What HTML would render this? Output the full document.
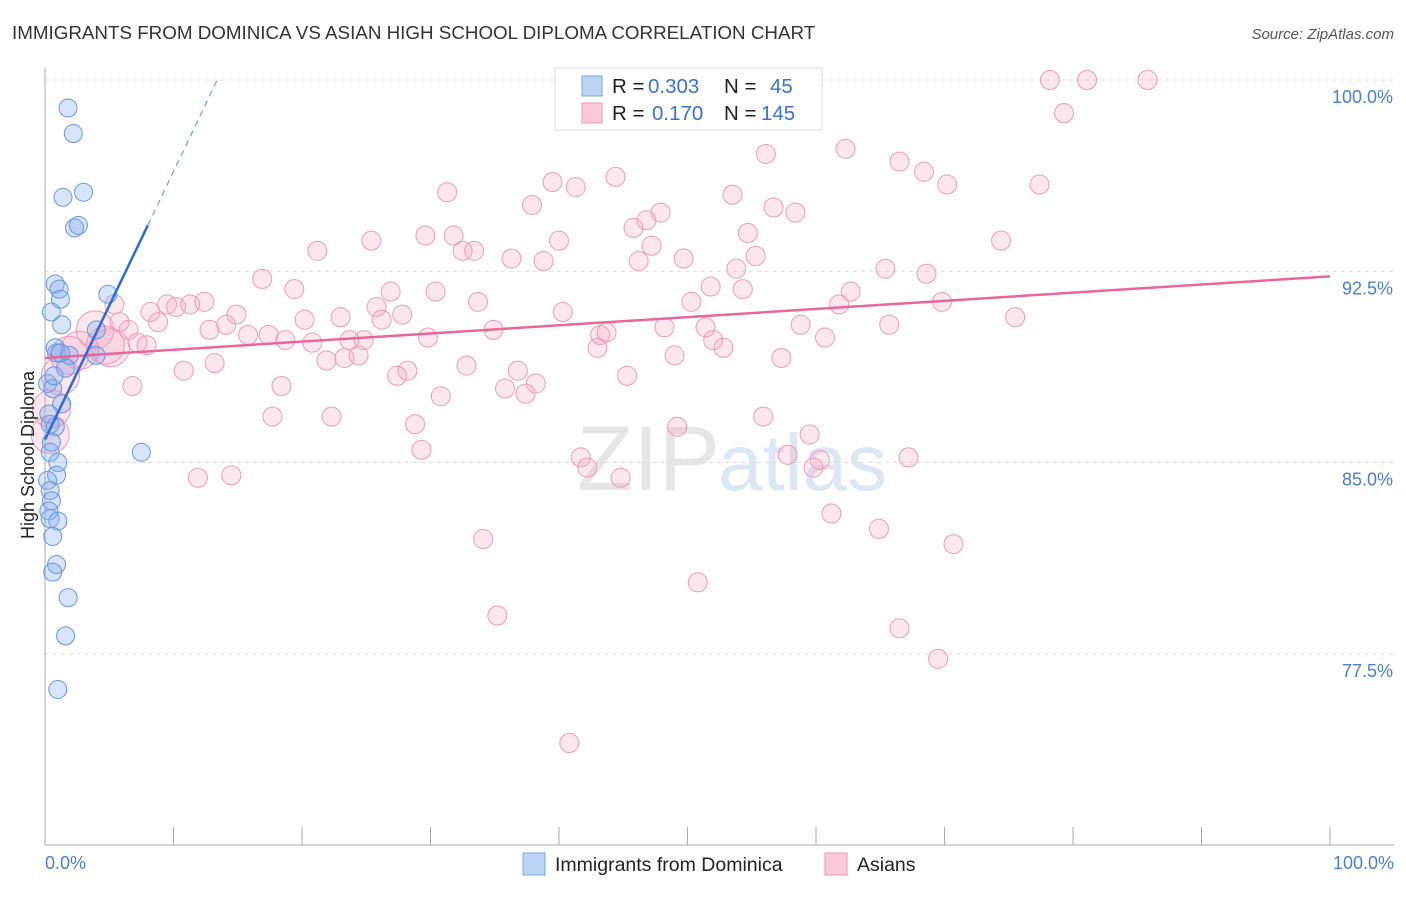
<!DOCTYPE html>
<html><head><meta charset="utf-8"><style>
body{margin:0;background:#fff;font-family:"Liberation Sans",sans-serif;}
svg text{font-family:"Liberation Sans",sans-serif;}
</style></head><body>
<svg id="chart" width="1406" height="892" xmlns="http://www.w3.org/2000/svg">
<text x="12" y="39" font-size="18.8" fill="#333">IMMIGRANTS FROM DOMINICA VS ASIAN HIGH SCHOOL DIPLOMA CORRELATION CHART</text>
<text x="1394" y="39" font-size="15" fill="#555" font-style="italic" text-anchor="end">Source: ZipAtlas.com</text>
<text x="720" y="490" font-size="92" fill="#e6e6e6" text-anchor="end" font-family="Liberation Serif">ZIP</text>
<text x="718" y="490" font-size="80" fill="#dde6f3">atlas</text>
<g id="grid"></g>
<g id="marks"></g>
<text transform="translate(34,455) rotate(-90)" font-size="18" fill="#222" text-anchor="middle">High School Diploma</text>
<text x="45" y="869" font-size="18" fill="#4a7fd0">0.0%</text>
<text x="1394" y="869" font-size="18" fill="#4a7fd0" text-anchor="end">100.0%</text>
<g>
<rect x="555" y="68" width="267" height="62" fill="#fff" stroke="#ddd"/>
<rect x="582" y="76" width="20" height="20" fill="#bcd4f5" stroke="#7aa6e6"/>
<rect x="582" y="103" width="20" height="20" fill="#fac8d8" stroke="#ee9ab6"/>
<text x="612" y="93" font-size="20.5" fill="#222">R =</text><text x="648" y="93" font-size="20.5" fill="#3a72d0">0.303</text>
<text x="724" y="93" font-size="20.5" fill="#222">N =</text><text x="770" y="93" font-size="20.5" fill="#3a72d0">45</text>
<text x="612" y="120" font-size="20.5" fill="#222">R =</text><text x="652" y="120" font-size="20.5" fill="#3a72d0">0.170</text>
<text x="724" y="120" font-size="20.5" fill="#222">N =</text><text x="761" y="120" font-size="20.5" fill="#3a72d0">145</text>
</g>
<g>
<rect x="523" y="853" width="22" height="22" fill="#bcd4f5" stroke="#7aa6e6"/>
<text x="555" y="871" font-size="19.5" fill="#222">Immigrants from Dominica</text>
<rect x="825" y="853" width="22" height="22" fill="#fac8d8" stroke="#ee9ab6"/>
<text x="857" y="871" font-size="19.5" fill="#222">Asians</text>
</g>
</svg>
<script>
const yTicks=[100,92.5,85,77.5];
const yTickLabels=["100.0%","92.5%","85.0%","77.5%"];
const xTicks=[0,10,20,30,40,50,60,70,80,90,100];
const blueX=[1.8,2.2,1.4,3.0,2.3,2.6,0.8,1.1,1.2,4.9,0.5,1.3,4.0,0.8,0.9,1.9,3.97,1.6,0.2,1.3,0.4,0.8,0.5,7.5,0.4,1.0,0.9,0.2,0.4,0.5,0.3,0.4,1.0,0.6,0.9,0.6,1.8,1.6,1.0,0.3,0.6,1.2,0.7];
const blueY=[98.9,97.9,95.4,95.6,94.2,94.3,92.0,91.8,91.4,91.6,90.9,90.4,90.2,89.5,89.3,89.2,89.2,88.7,88.1,87.3,86.5,86.4,85.8,85.4,85.4,85.0,84.5,84.3,83.9,83.5,83.1,82.8,82.7,82.1,81.0,80.7,79.7,78.2,76.1,86.9,87.9,89.3,88.4];
const pinkX=[78.2,81.1,85.8,79.3,56.1,62.3,66.5,68.4,70.2,77.4,44.4,39.5,41.3,31.3,53.5,37.9,56.7,58.4,47.9,46.8,45.8,54.7,29.6,31.8,40.0,25.4,74.4,21.2,32.5,33.4,47.2,36.3,38.8,46.2,49.7,55.3,53.8,65.4,68.6,16.9,51.8,54.3,62.7,19.4,30.4,26.9,61.8,69.8,50.3,33.7,40.3,14.9,8.2,25.8,27.8,23.0,20.2,65.7,58.8,75.5,34.9,43.7,48.2,51.4,52.0,43.2,52.8,43.0,60.7,12.8,15.8,14.1,17.4,18.7,20.8,26.2,29.8,24.8,23.7,24.4,23.3,21.9,13.2,10.8,32.8,36.8,28.2,27.4,49.0,57.3,45.3,38.2,18.4,35.8,37.4,30.8,17.7,22.3,28.8,29.3,55.9,59.5,49.2,41.7,42.2,57.8,60.3,59.8,67.2,44.8,11.9,14.5,61.2,64.9,34.1,70.7,50.8,35.2,66.5,69.5,40.8,5.4,5.8,6.5,7.2,7.9,8.8,9.5,10.2,11.3,12.4,6.8];
const pinkY=[100,100,100,98.7,97.1,97.3,96.8,96.4,95.9,95.9,96.2,96.0,95.8,95.6,95.5,95.1,95.0,94.8,94.8,94.5,94.2,94.0,93.9,93.9,93.7,93.7,93.7,93.3,93.3,93.3,93.5,93.0,92.9,92.9,93.0,93.1,92.6,92.6,92.4,92.2,91.9,91.8,91.7,91.8,91.7,91.7,91.2,91.3,91.3,91.3,90.9,90.8,90.9,91.1,90.8,90.7,90.6,90.4,90.4,90.7,90.2,90.1,90.3,90.3,89.8,90.0,89.5,89.5,89.9,90.2,90.0,90.4,90.0,89.8,89.7,90.6,89.9,89.8,89.8,89.2,89.1,89.0,88.9,88.6,88.8,88.6,88.6,88.4,89.2,89.1,88.4,88.1,88.0,87.9,87.7,87.6,86.8,86.8,86.5,85.5,86.8,86.1,86.4,85.2,84.8,85.3,85.1,84.8,85.2,84.4,84.4,84.5,83.0,82.4,82.0,81.8,80.3,79.0,78.5,77.3,74.0,91.2,90.5,90.2,89.7,89.6,90.5,91.2,91.1,91.2,91.3,88.0];
const bigPinkX=[3.9,2.7,4.7,1.9,1.2,0.5,0.4,5.1];
const bigPinkY=[90.2,89.4,89.6,89.2,88.4,87.1,86.1,89.5];
const blueFit=[[0,85.9],[8.0,94.3]];
const blueFitExt=[[8.0,94.3],[13.4,100]];
const pinkFit=[[0,89.1],[100,92.3]];

const NS="http://www.w3.org/2000/svg";
const X0=45,X1=1330,YTOP=80,YBOT=845;
const xs=v=>X0+(X1-X0)*v/100;
const ys=v=>YTOP+(100-v)*(YBOT-YTOP)/30;
function mk(tag,attrs,parent){const e=document.createElementNS(NS,tag);for(const k in attrs)e.setAttribute(k,attrs[k]);parent.appendChild(e);return e;}
const grid=document.getElementById('grid'),marks=document.getElementById('marks');
let e;
yTicks.forEach((t,i)=>{
 e=mk('line',{x1:X0,x2:1394,y1:ys(t),y2:ys(t),stroke:'#ddd','stroke-dasharray':'4,4'},grid);
 
 
 e=mk('text',{x:1393,y:ys(t)+23,'font-size':18,fill:'#4a7fd0','text-anchor':'end'},grid);
 e.textContent=yTickLabels[i];
 
 
});
e=mk('line',{x1:X0,x2:X0,y1:68,y2:YBOT,stroke:'#aaa'},grid);


e=mk('line',{x1:X0,x2:1394,y1:YBOT,y2:YBOT,stroke:'#aaa'},grid);


xTicks.forEach(t=>{
 e=mk('line',{x1:xs(t),x2:xs(t),y1:YBOT,y2:YBOT-18,stroke:'#aaa'},grid);
 
 
});
pinkX.forEach((v,i)=>{
 e=mk('circle',{cx:xs(v),cy:ys(pinkY[i]),r:9.5,fill:'rgba(244,160,190,0.25)',stroke:'#eb9cb8','stroke-width':1},marks);
 
 
});
bigPinkX.forEach((v,i)=>{
 e=mk('circle',{cx:xs(v),cy:ys(bigPinkY[i]),r:19,fill:'rgba(244,160,190,0.25)',stroke:'#eb9cb8','stroke-width':1},marks);
 
 
});
blueX.forEach((v,i)=>{
 e=mk('circle',{cx:xs(v),cy:ys(blueY[i]),r:9,fill:'rgba(130,172,238,0.32)',stroke:'#6797de','stroke-width':1},marks);
 
 
});
e=mk('line',{x1:xs(pinkFit[0][0]),y1:ys(pinkFit[0][1]),x2:xs(pinkFit[1][0]),y2:ys(pinkFit[1][1]),stroke:'#e8679a','stroke-width':2.5},marks);


e=mk('line',{x1:xs(blueFit[0][0]),y1:ys(blueFit[0][1]),x2:xs(blueFit[1][0]),y2:ys(blueFit[1][1]),stroke:'#2e6bd6','stroke-width':2.5},marks);


e=mk('line',{x1:xs(blueFitExt[0][0]),y1:ys(blueFitExt[0][1]),x2:xs(blueFitExt[1][0]),y2:ys(blueFitExt[1][1]),stroke:'#6f9ae0','stroke-width':1.2,'stroke-dasharray':'6,5'},marks);


</script>
</body></html>
